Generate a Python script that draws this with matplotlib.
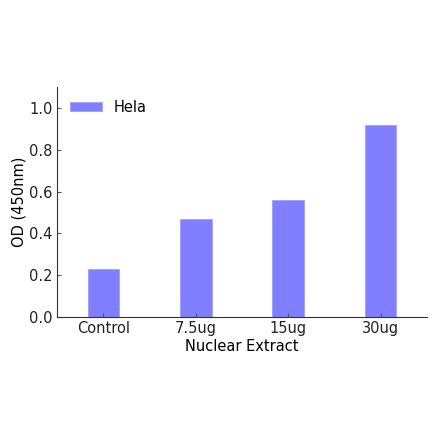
import matplotlib
matplotlib.use('Agg')
from matplotlib import pyplot as plt

categories = ['Control', '7.5ug', '15ug', '30ug']
values = [0.23, 0.47, 0.56, 0.92]

plt.rcParams.update({'font.size': 10.5})
fig = plt.figure(figsize=(4.4, 4.41), dpi=100)
ax = fig.add_axes([0.13, 0.281, 0.84, 0.522])

x = range(len(categories))
ax.bar(x, values, width=0.34, color='#7f7fff', edgecolor='#9f9fff', linewidth=0.6, label='Hela')

ax.set_xlim(-0.5, 3.5)
ax.set_ylim(0, 1.1)
ax.set_xticks(list(x))
ax.set_xticklabels(categories)
ax.set_yticks([0.0, 0.2, 0.4, 0.6, 0.8, 1.0])
ax.set_xlabel('Nuclear Extract', labelpad=2)
ax.set_ylabel('OD (450nm)', labelpad=2)

for s in ['top', 'right']:
    ax.spines[s].set_visible(False)
for s in ['left', 'bottom']:
    ax.spines[s].set_color('#333333')
ax.tick_params(direction='in', length=3, color='#555555', labelcolor='#222222')
ax.tick_params(axis='x', pad=3)

ax.legend(loc='upper left', frameon=False, handlelength=2.2, handleheight=0.6)

plt.savefig('out.png', dpi=100)
